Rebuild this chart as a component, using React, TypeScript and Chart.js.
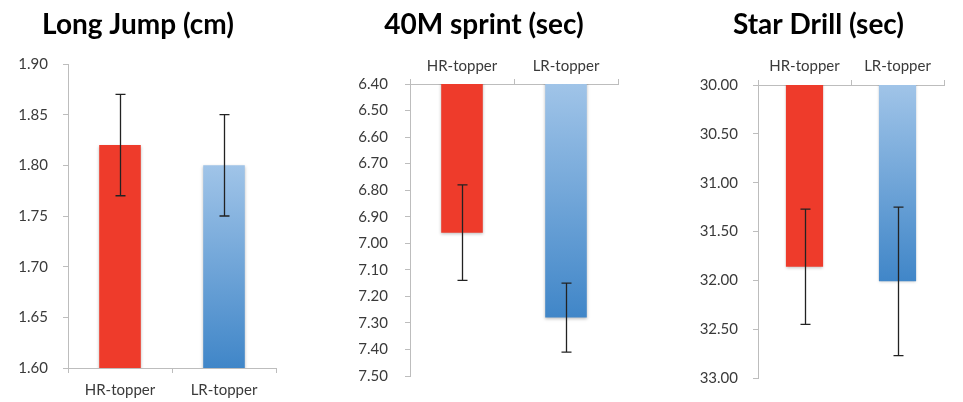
import React, { useEffect, useRef } from "react";
import { Chart, registerables } from "chart.js";
Chart.register(...registerables);

const categories = ["HR-topper", "LR-topper"];

const longJumpValues = [1.82, 1.8];
const longJumpErrors = [0.05, 0.05];

const sprintValues = [6.96, 7.28];
const sprintErrors = [0.18, 0.13];

const starValues = [31.86, 32.01];
const starErrors = [0.59, 0.76];

const RED = "#ee3b2b";
const BLUE_LIGHT = "#a0c4e8";
const BLUE_DARK = "#4086c8";
const AXIS = "#bdbdbd";
const TICK_TEXT = "#3a3a3a";
const FONT = "Lato";

type Panel = {
  title: string;
  values: number[];
  errors: number[];
  min: number;
  max: number;
  step: number;
  reverse: boolean;
  xPos: "top" | "bottom";
  left: number;
  width: number;
  yWidth: number;
  rightPad: number;
  titleBottom: number;
  xHeight: number;
  bottomPad: number;
  xTickPad: number;
  yTickPad: number;
};

const panels: Panel[] = [
  {
    title: "Long Jump (cm)",
    values: longJumpValues,
    errors: longJumpErrors,
    min: 1.6,
    max: 1.9,
    step: 0.05,
    reverse: false,
    xPos: "bottom",
    left: 0,
    width: 300,
    yWidth: 68,
    rightPad: 24,
    titleBottom: 22.6,
    xHeight: 34,
    bottomPad: 0,
    xTickPad: 8,
    yTickPad: 15,
  },
  {
    title: "40M sprint (sec)",
    values: sprintValues,
    errors: sprintErrors,
    min: 6.4,
    max: 7.5,
    step: 0.1,
    reverse: true,
    xPos: "top",
    left: 350,
    width: 288,
    yWidth: 60,
    rightPad: 20,
    titleBottom: 4,
    xHeight: 38.6,
    bottomPad: 15,
    xTickPad: 4,
    yTickPad: 17,
  },
  {
    title: "Star Drill (sec)",
    values: starValues,
    errors: starErrors,
    min: 30,
    max: 33,
    step: 0.5,
    reverse: true,
    xPos: "top",
    left: 693,
    width: 270,
    yWidth: 65,
    rightPad: 19,
    titleBottom: 4,
    xHeight: 39.6,
    bottomPad: 15,
    xTickPad: 5,
    yTickPad: 15,
  },
];

const errorBarPlugin = {
  id: "errorBars",
  beforeDatasetsDraw(chart: any) {
    const ctx = chart.ctx;
    ctx.save();
    ctx.shadowColor = "rgba(0,0,0,0.25)";
    ctx.shadowBlur = 3;
    ctx.shadowOffsetX = 0;
    ctx.shadowOffsetY = 1;
  },
  afterDatasetsDraw(chart: any, _args: any, opts: any) {
    const ctx = chart.ctx;
    ctx.restore();
    const errs: number[] = opts.errors || [];
    const ds = chart.data.datasets[0];
    const meta = chart.getDatasetMeta(0);
    const y = chart.scales.y;
    ctx.save();
    ctx.strokeStyle = "#222";
    ctx.lineWidth = 1.3;
    meta.data.forEach((bar: any, i: number) => {
      const v = ds.data[i] as number;
      const e = errs[i];
      const x = Math.round(bar.x) + 0.5;
      const y1 = y.getPixelForValue(v - e);
      const y2 = y.getPixelForValue(v + e);
      ctx.beginPath();
      ctx.moveTo(x, y1);
      ctx.lineTo(x, y2);
      ctx.moveTo(x - 5, y1);
      ctx.lineTo(x + 5, y1);
      ctx.moveTo(x - 5, y2);
      ctx.lineTo(x + 5, y2);
      ctx.stroke();
    });
    ctx.restore();
  },
};

function PanelChart({ p }: { p: Panel }) {
  const ref = useRef<HTMLCanvasElement | null>(null);
  useEffect(() => {
    if (!ref.current) return;
    const blueFill = (c: any) => {
      const chart = c.chart;
      if (!chart.chartArea || c.raw == null) return BLUE_DARK;
      const ys = chart.scales.y;
      const p1 = ys.getPixelForValue(c.raw);
      const p0 = ys.getBasePixel();
      const g = chart.ctx.createLinearGradient(0, Math.min(p0, p1), 0, Math.max(p0, p1));
      g.addColorStop(0, BLUE_LIGHT);
      g.addColorStop(1, BLUE_DARK);
      return g;
    };
    const chart = new Chart(ref.current, {
      type: "bar",
      data: {
        labels: categories,
        datasets: [
          {
            data: p.values,
            backgroundColor: (c: any) => (c.dataIndex === 0 ? RED : blueFill(c)),
            borderWidth: 0,
            barPercentage: 0.4,
            categoryPercentage: 1,
          },
        ],
      },
      options: {
        animation: false,
        responsive: false,
        devicePixelRatio: 1,
        layout: { padding: { left: 0, right: p.rightPad, top: 0, bottom: p.bottomPad } },
        plugins: {
          legend: { display: false },
          tooltip: { enabled: false },
          title: {
            display: true,
            text: p.title,
            color: "#000",
            font: { family: FONT, size: 28, weight: "bold", lineHeight: 1.2 },
            padding: { top: 7.8, bottom: p.titleBottom },
          },
          errorBars: { errors: p.errors },
        } as any,
        scales: {
          x: {
            position: p.xPos,
            offset: true,
            grid: {
              offset: true,
              drawOnChartArea: false,
              drawTicks: true,
              tickLength: 5,
              color: AXIS,
            },
            border: { display: true, color: AXIS },
            ticks: {
              color: TICK_TEXT,
              font: { family: FONT, size: 15 },
              padding: p.xTickPad,
              maxRotation: 0,
            },
            afterFit: (s: any) => {
              s.height = p.xHeight;
            },
          },
          y: {
            min: p.min,
            max: p.max,
            reverse: p.reverse,
            grid: {
              drawOnChartArea: false,
              drawTicks: true,
              tickLength: 5,
              color: AXIS,
            },
            border: { display: true, color: AXIS },
            ticks: {
              stepSize: p.step,
              color: TICK_TEXT,
              font: { family: FONT, size: 15 },
              padding: p.yTickPad,
              callback: (v: any) => Number(v).toFixed(2),
            },
            afterFit: (s: any) => {
              s.width = p.yWidth;
            },
          },
        },
      } as any,
      plugins: [errorBarPlugin as any],
    });
    return () => chart.destroy();
  }, [p]);
  return (
    <canvas
      ref={ref}
      width={p.width}
      height={402}
      style={{ position: "absolute", left: p.left, top: 0, width: p.width, height: 402 }}
    />
  );
}

export default function App() {
  return (
    <div
      style={{
        position: "absolute",
        left: 0,
        top: 0,
        width: 963,
        height: 402,
        background: "#fff",
        overflow: "hidden",
      }}
    >
      {panels.map((p) => (
        <PanelChart key={p.title} p={p} />
      ))}
    </div>
  );
}
